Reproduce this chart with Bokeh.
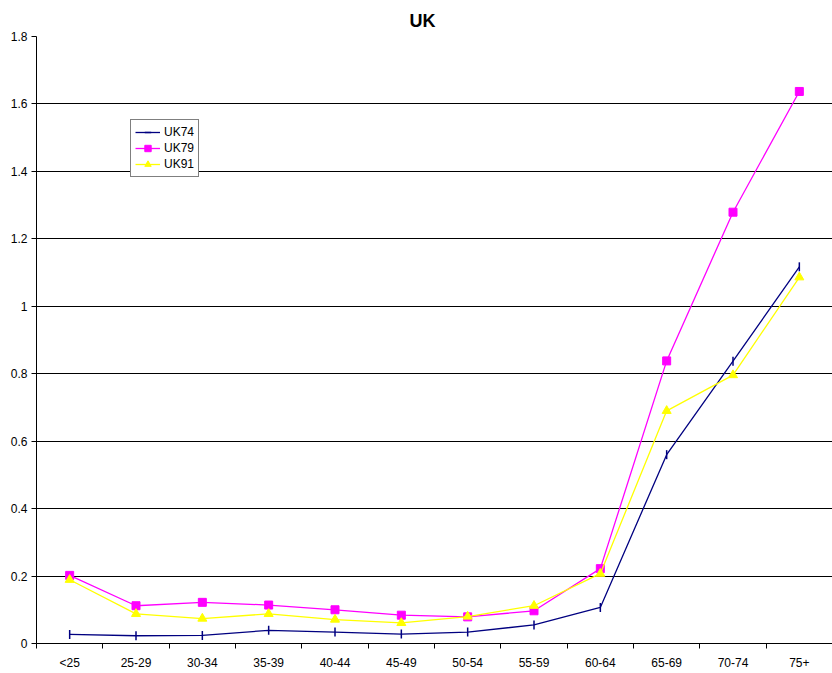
import numpy as np
from bokeh.plotting import figure
from bokeh.models import (FixedTicker, CustomJSTickFormatter, Legend, LegendItem,
                          ColumnDataSource)
from bokeh.embed import file_html
from bokeh.resources import INLINE

categories = ["<25", "25-29", "30-34", "35-39", "40-44", "45-49",
              "50-54", "55-59", "60-64", "65-69", "70-74", "75+"]
uk74 = [0.027, 0.023, 0.024, 0.039, 0.034, 0.028, 0.034, 0.055, 0.107, 0.56, 0.837, 1.117]
uk79 = [0.202, 0.112, 0.122, 0.114, 0.100, 0.084, 0.079, 0.097, 0.222, 0.838, 1.279, 1.637]
uk91 = [0.189, 0.088, 0.074, 0.088, 0.071, 0.061, 0.080, 0.112, 0.207, 0.690, 0.796, 1.086]
y_ticks = [0, 0.2, 0.4, 0.6, 0.8, 1.0, 1.2, 1.4, 1.6, 1.8]

xpos = [i + 0.5 for i in range(len(categories))]

FONT = "Liberation Sans"

p = figure(width=832, height=672, output_backend="svg", toolbar_location=None,
           x_range=(0, len(categories)), y_range=(0, 1.8),
           min_border_left=36, min_border_right=0, min_border_top=36,
           min_border_bottom=20, title="UK")
p.title.align = "left"
p.title.offset = 373
p.title.standoff = 12
p.title.text_font = FONT
p.title.text_font_size = "18px"
p.title.text_font_style = "bold"
p.title.text_color = "black"
p.outline_line_color = None
p.background_fill_color = "white"
p.border_fill_color = "white"

# x axis
p.xaxis.ticker = FixedTicker(ticks=xpos, minor_ticks=list(range(len(categories) + 1)))
p.xaxis.major_label_overrides = {x: c for x, c in zip(xpos, categories)}
p.xaxis.major_tick_out = 0
p.xaxis.major_tick_in = 0
p.xaxis.minor_tick_out = 5
p.xaxis.minor_tick_in = 0
p.xaxis.minor_tick_line_color = "black"
p.xaxis.axis_line_color = "black"
p.xaxis.major_label_text_font = FONT
p.xaxis.major_label_text_font_size = "12px"
p.xaxis.major_label_text_color = "black"
p.xaxis.major_label_standoff = 7

# y axis
p.yaxis.ticker = FixedTicker(ticks=y_ticks, minor_ticks=[])
p.yaxis.formatter = CustomJSTickFormatter(code="return String(Math.round(tick*10)/10);")
p.yaxis.major_tick_out = 5
p.yaxis.major_tick_in = 0
p.yaxis.major_tick_line_color = "black"
p.yaxis.axis_line_color = "black"
p.yaxis.major_label_text_font = FONT
p.yaxis.major_label_text_font_size = "12px"
p.yaxis.major_label_text_color = "black"
p.yaxis.major_label_standoff = 4

p.xgrid.visible = False
p.ygrid.ticker = FixedTicker(ticks=y_ticks)
p.ygrid.grid_line_color = "black"
p.ygrid.grid_line_width = 1

src = ColumnDataSource(dict(x=xpos, uk74=uk74, uk79=uk79, uk91=uk91))

l74 = p.line("x", "uk74", source=src, color="#000080", line_width=1.3)
m74 = p.scatter("x", "uk74", source=src, marker="dash", angle=np.pi / 2, size=9,
                line_color="#000080", line_width=1.5)
l79 = p.line("x", "uk79", source=src, color="#FF00FF", line_width=1.3)
m79 = p.scatter("x", "uk79", source=src, marker="square", size=8,
                fill_color="#FF00FF", line_color="#FF00FF")
l91 = p.line("x", "uk91", source=src, color="#FFFF00", line_width=1.3)
m91 = p.scatter("x", "uk91", source=src, marker="triangle", size=9,
                fill_color="#FFFF00", line_color="#FFFF00")

legend = Legend(items=[LegendItem(label="UK74", renderers=[l74, m74]),
                       LegendItem(label="UK79", renderers=[l79, m79]),
                       LegendItem(label="UK91", renderers=[l91, m91])],
                location=(94, 466), orientation="vertical")
legend.border_line_color = "black"
legend.border_line_width = 1
legend.background_fill_color = "white"
legend.background_fill_alpha = 1
legend.label_text_font = FONT
legend.label_text_font_size = "12px"
legend.label_text_color = "black"
legend.glyph_width = 25
legend.glyph_height = 16
legend.label_height = 16
legend.spacing = 0
legend.padding = 4
legend.margin = 0
legend.label_standoff = 4
p.add_layout(legend, "center")

open("out.html", "w").write(file_html(p, INLINE))
